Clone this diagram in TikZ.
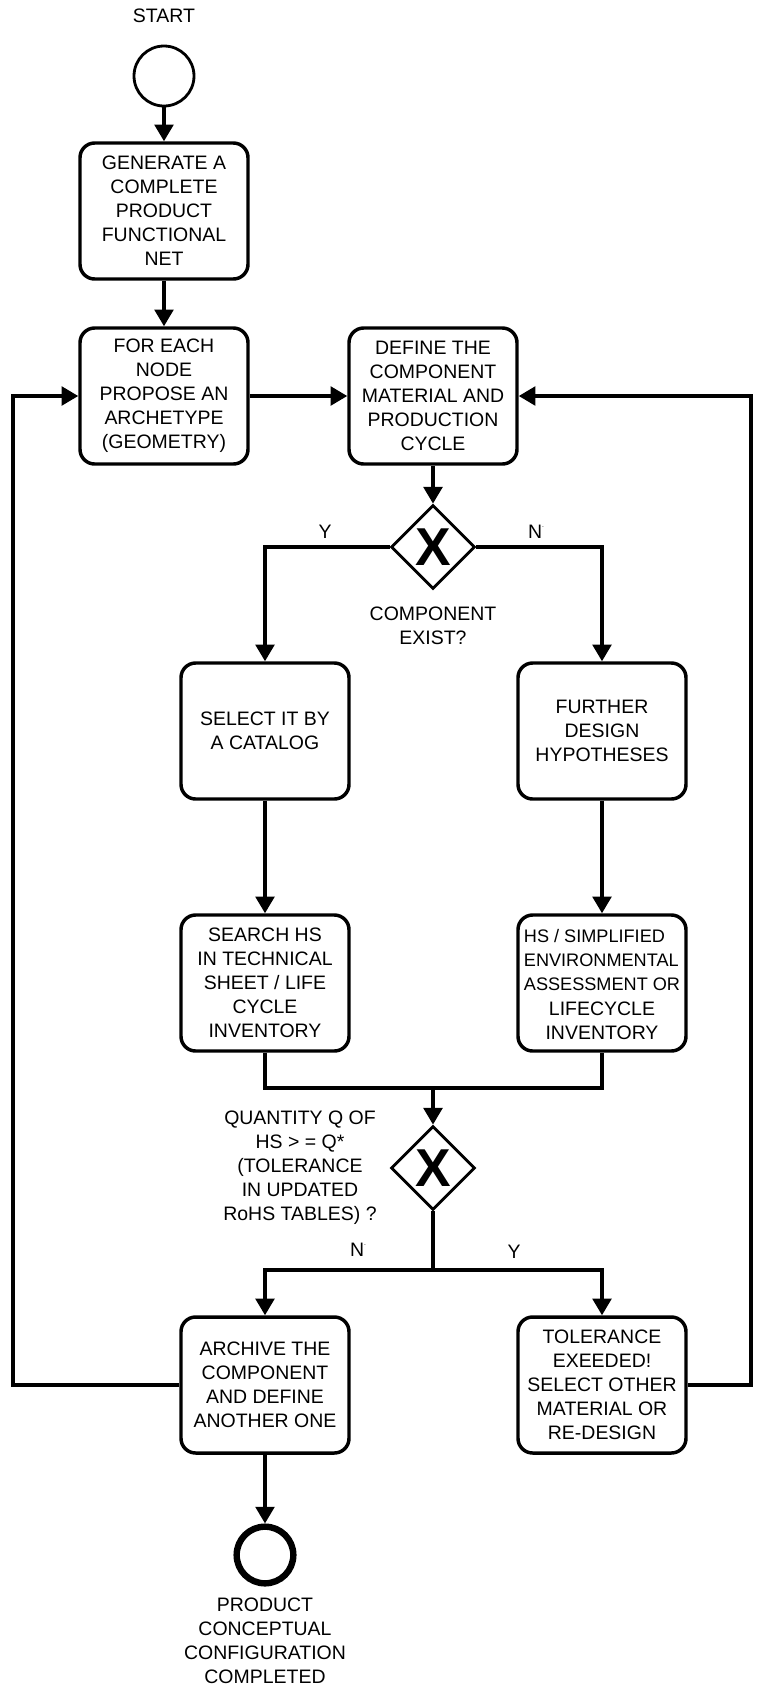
\documentclass[tikz,border=0pt]{standalone}
\usepackage{fontspec}
\setmainfont{Liberation Sans}
\usetikzlibrary{arrows.meta,shapes.geometric}
\begin{document}
\begin{tikzpicture}[x=0.75pt,y=-0.75pt,
  every node/.style={font=\fontsize{14.6}{18}\selectfont},
  task/.style={draw,line width=2.6pt,rounded corners=11pt,minimum width=126pt,minimum height=102pt,align=center,inner sep=1pt},
  gate/.style={draw,diamond,line width=2.1pt,minimum width=63pt,minimum height=63pt,inner sep=0pt,
    label={[font=\fontsize{40}{40}\selectfont\bfseries]center:X}},
  startev/.style={draw,circle,line width=2.1pt,minimum size=45pt,inner sep=0pt},
  endev/.style={draw,circle,line width=4.8pt,minimum size=42.5pt,inner sep=0pt},
  lbl/.style={align=center,inner sep=0pt},
  conn/.style={line width=2.6pt},
  arr/.style={conn,-{Triangle[length=12.5pt,width=14pt]}}]
\useasboundingbox (0,0) rectangle (757,1686);
% nodes
\node[lbl] (tstart) at (164,16) {START};
\node[startev] (start) at (164,76) {};
\node[task] (gen) at (164,211) {GENERATE A\\COMPLETE\\PRODUCT\\FUNCTIONAL\\NET};
\node[task] (prop) at (164,396) {FOR EACH\\NODE\\PROPOSE AN\\ARCHETYPE\\(GEOMETRY)};
\node[task] (def) at (433,396) {DEFINE THE\\COMPONENT\\MATERIAL AND\\PRODUCTION\\CYCLE};
\node[gate] (gw1) at (433,547) {};
\node[lbl] (ty1) at (325,532) {Y};
\node[lbl] (tn1) at (536,532) {N\raisebox{1.1ex}{\tiny .}};
\node[lbl] (tq1) at (433,626) {COMPONENT\\EXIST?};
\node[task] (sel) at (265,731) {SELECT IT BY\\A CATALOG};
\node[task] (fur) at (602,731) {FURTHER\\DESIGN\\HYPOTHESES};
\node[task] (sea) at (265,983) {SEARCH HS\\IN TECHNICAL\\SHEET / LIFE\\CYCLE\\INVENTORY};
\node[task] (hs) at (602,983) {{\fontsize{13.6}{18}\selectfont\begin{tabular}{@{}l@{}}HS / SIMPLIFIED\\ENVIRONMENTAL\\ASSESSMENT OR\end{tabular}}\\[2pt]LIFECYCLE\\INVENTORY};
\coordinate (m) at (433,1088);
\node[gate] (gw2) at (433,1168) {};
\node[lbl] (tq2) at (300,1168) {QUANTITY Q OF\\HS > = Q*\\(TOLERANCE\\ IN UPDATED\\RoHS TABLES) ?};
\coordinate (s) at (433,1270);
\node[lbl] (tn2) at (358,1250) {N\raisebox{1.1ex}{\tiny .}};
\node[lbl] (ty2) at (514,1252) {Y};
\node[task] (arch) at (265,1385) {ARCHIVE THE\\COMPONENT\\AND DEFINE\\ANOTHER ONE};
\node[task] (tol) at (602,1385) {TOLERANCE\\EXEEDED!\\SELECT OTHER\\MATERIAL OR\\RE-DESIGN};
\node[endev] (endc) at (265,1555) {};
\node[lbl] (tend) at (265,1641) {PRODUCT\\CONCEPTUAL\\CONFIGURATION\\COMPLETED};
\coordinate (lu) at (13,396);
\coordinate (ru) at (751,396);
% connectors
\draw[arr] (start) -- (gen);
\draw[arr] (gen) -- (prop);
\draw[arr] (prop) -- (def);
\draw[arr] (def) -- (gw1);
\draw[arr] (gw1.west) -| (sel.north);
\draw[arr] (gw1.east) -| (fur.north);
\draw[arr] (sel) -- (sea);
\draw[arr] (fur) -- (hs);
\draw[conn] (sea.south) |- (m) -| (hs.south);
\draw[arr] (m) -- (gw2.north);
\draw[conn] (gw2.south) -- (s);
\draw[arr] (s) -| (arch.north);
\draw[arr] (s) -| (tol.north);
\draw[arr] (arch) -- (endc);
\draw[arr] (arch.west) -| (lu) -- (prop.west);
\draw[arr] (tol.east) -| (ru) -- (def.east);
\end{tikzpicture}
\end{document}
